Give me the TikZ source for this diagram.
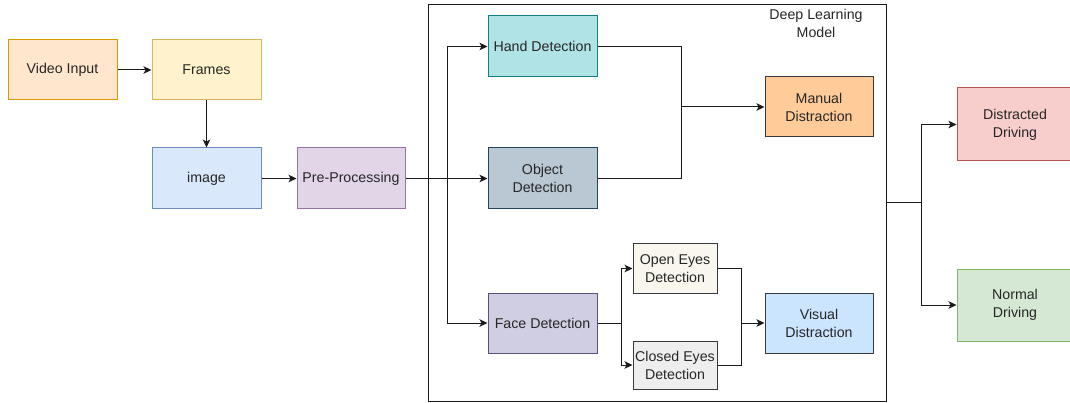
\documentclass[tikz,border=0pt]{standalone}
\usepackage{fontspec}
\setmainfont{Liberation Sans}
\usetikzlibrary{arrows.meta}
\definecolor{txt}{HTML}{262626}
\definecolor{ln}{HTML}{1A1A1A}
\definecolor{vidS}{HTML}{D79B00}\definecolor{vidF}{HTML}{FFE6CC}
\definecolor{frmS}{HTML}{D6B656}\definecolor{frmF}{HTML}{FFF2CC}
\definecolor{imgS}{HTML}{6C8EBF}\definecolor{imgF}{HTML}{DAE8FC}
\definecolor{preS}{HTML}{9673A6}\definecolor{preF}{HTML}{E1D5E7}
\definecolor{handS}{HTML}{0E8088}\definecolor{handF}{HTML}{B0E3E6}
\definecolor{objS}{HTML}{23445D}\definecolor{objF}{HTML}{BAC8D3}
\definecolor{faceS}{HTML}{56517E}\definecolor{faceF}{HTML}{D0CEE2}
\definecolor{grayS}{HTML}{36393D}
\definecolor{openF}{HTML}{F9F7ED}
\definecolor{closedF}{HTML}{EEEEEE}
\definecolor{manF}{HTML}{FFCC99}
\definecolor{visF}{HTML}{CCE5FF}
\definecolor{distS}{HTML}{B85450}\definecolor{distF}{HTML}{F8CECC}
\definecolor{normS}{HTML}{82B366}\definecolor{normF}{HTML}{D5E8D4}
\tikzset{
  box/.style={draw, rectangle, line width=1pt, align=center, text=txt,
    font=\fontsize{14.2}{18}\selectfont, inner sep=0pt},
  arr/.style={draw=ln, line width=1pt, -{Stealth[length=8pt,width=7.5pt,inset=2pt]}},
  ln/.style={draw=ln, line width=1pt},
}
\begin{document}
\begin{tikzpicture}[x=1pt,y=-1pt]
\useasboundingbox (0,0) rectangle (1070,403);
\clip (0,0) rectangle (1070,403);

% container of the deep learning model
\node[draw=ln, line width=1pt, rectangle, inner sep=0pt,
  minimum width=458pt, minimum height=396pt] (dl) at (657,203) {};
\node[text=txt, align=center, font=\fontsize{14.2}{18}\selectfont] (dltitle) at (816,23) {Deep Learning\\Model};

% input chain
\node[box, draw=vidS, fill=vidF, minimum width=109pt, minimum height=60pt] (vid) at (62.5,70) {Video Input};
\node[box, draw=frmS, fill=frmF, minimum width=109pt, minimum height=60pt] (frames) at (206.5,70) {Frames};
\node[box, draw=imgS, fill=imgF, minimum width=109pt, minimum height=61pt] (img) at (206.5,178.5) {image};
\node[box, draw=preS, fill=preF, minimum width=108pt, minimum height=61pt] (pre) at (351,178.5) {Pre-Processing};

% detectors
\node[box, draw=handS, fill=handF, minimum width=109pt, minimum height=61pt] (hand) at (542.5,46.5) {Hand Detection};
\node[box, draw=objS, fill=objF, minimum width=109pt, minimum height=61pt] (obj) at (542.5,178.5) {Object\\Detection};
\node[box, draw=faceS, fill=faceF, minimum width=109pt, minimum height=60pt] (face) at (542.5,323) {Face Detection};
\node[box, draw=grayS, fill=openF, minimum width=84pt, minimum height=49pt] (open) at (675,268.5) {Open Eyes\\Detection};
\node[box, draw=grayS, fill=closedF, minimum width=84pt, minimum height=48pt] (closed) at (675,365) {Closed Eyes\\Detection};

% distraction classes
\node[box, draw=grayS, fill=manF, minimum width=108pt, minimum height=60pt] (manual) at (819,107) {Manual\\Distraction};
\node[box, draw=grayS, fill=visF, minimum width=108pt, minimum height=60pt] (visual) at (819,323) {Visual\\Distraction};

% final outputs
\node[box, draw=distS, fill=distF, minimum width=116pt, minimum height=73pt] (dist) at (1015,124.5) {Distracted\\Driving};
\node[box, draw=normS, fill=normF, minimum width=116pt, minimum height=72pt] (norm) at (1015,305) {Normal\\Driving};

% junction points
\coordinate (split) at (447,178.5);
\coordinate (mj) at (681,107);
\coordinate (fj) at (621,323);
\coordinate (vj) at (741,323);
\coordinate (oj) at (921,203);

% connectors
\draw[arr] (vid) -- (frames);
\draw[arr] (frames) -- (img);
\draw[arr] (img) -- (pre);
\draw[arr] (pre) -- (obj);
\draw[arr] (split) |- (hand.west);
\draw[arr] (split) |- (face.west);
\draw[ln] (hand.east) -| (mj);
\draw[ln] (obj.east) -| (mj);
\draw[arr] (mj) -- (manual.west);
\draw[arr] (fj) |- (open.west);
\draw[arr] (fj) |- (closed.west);
\draw[ln] (face.east) -- (fj);
\draw[ln] (open.east) -| (vj);
\draw[ln] (closed.east) -| (vj);
\draw[arr] (vj) -- (visual.west);
\draw[ln] (dl.east |- oj) -- (oj);
\draw[arr] (oj) |- (dist.west);
\draw[arr] (oj) |- (norm.west);
\end{tikzpicture}
\end{document}
